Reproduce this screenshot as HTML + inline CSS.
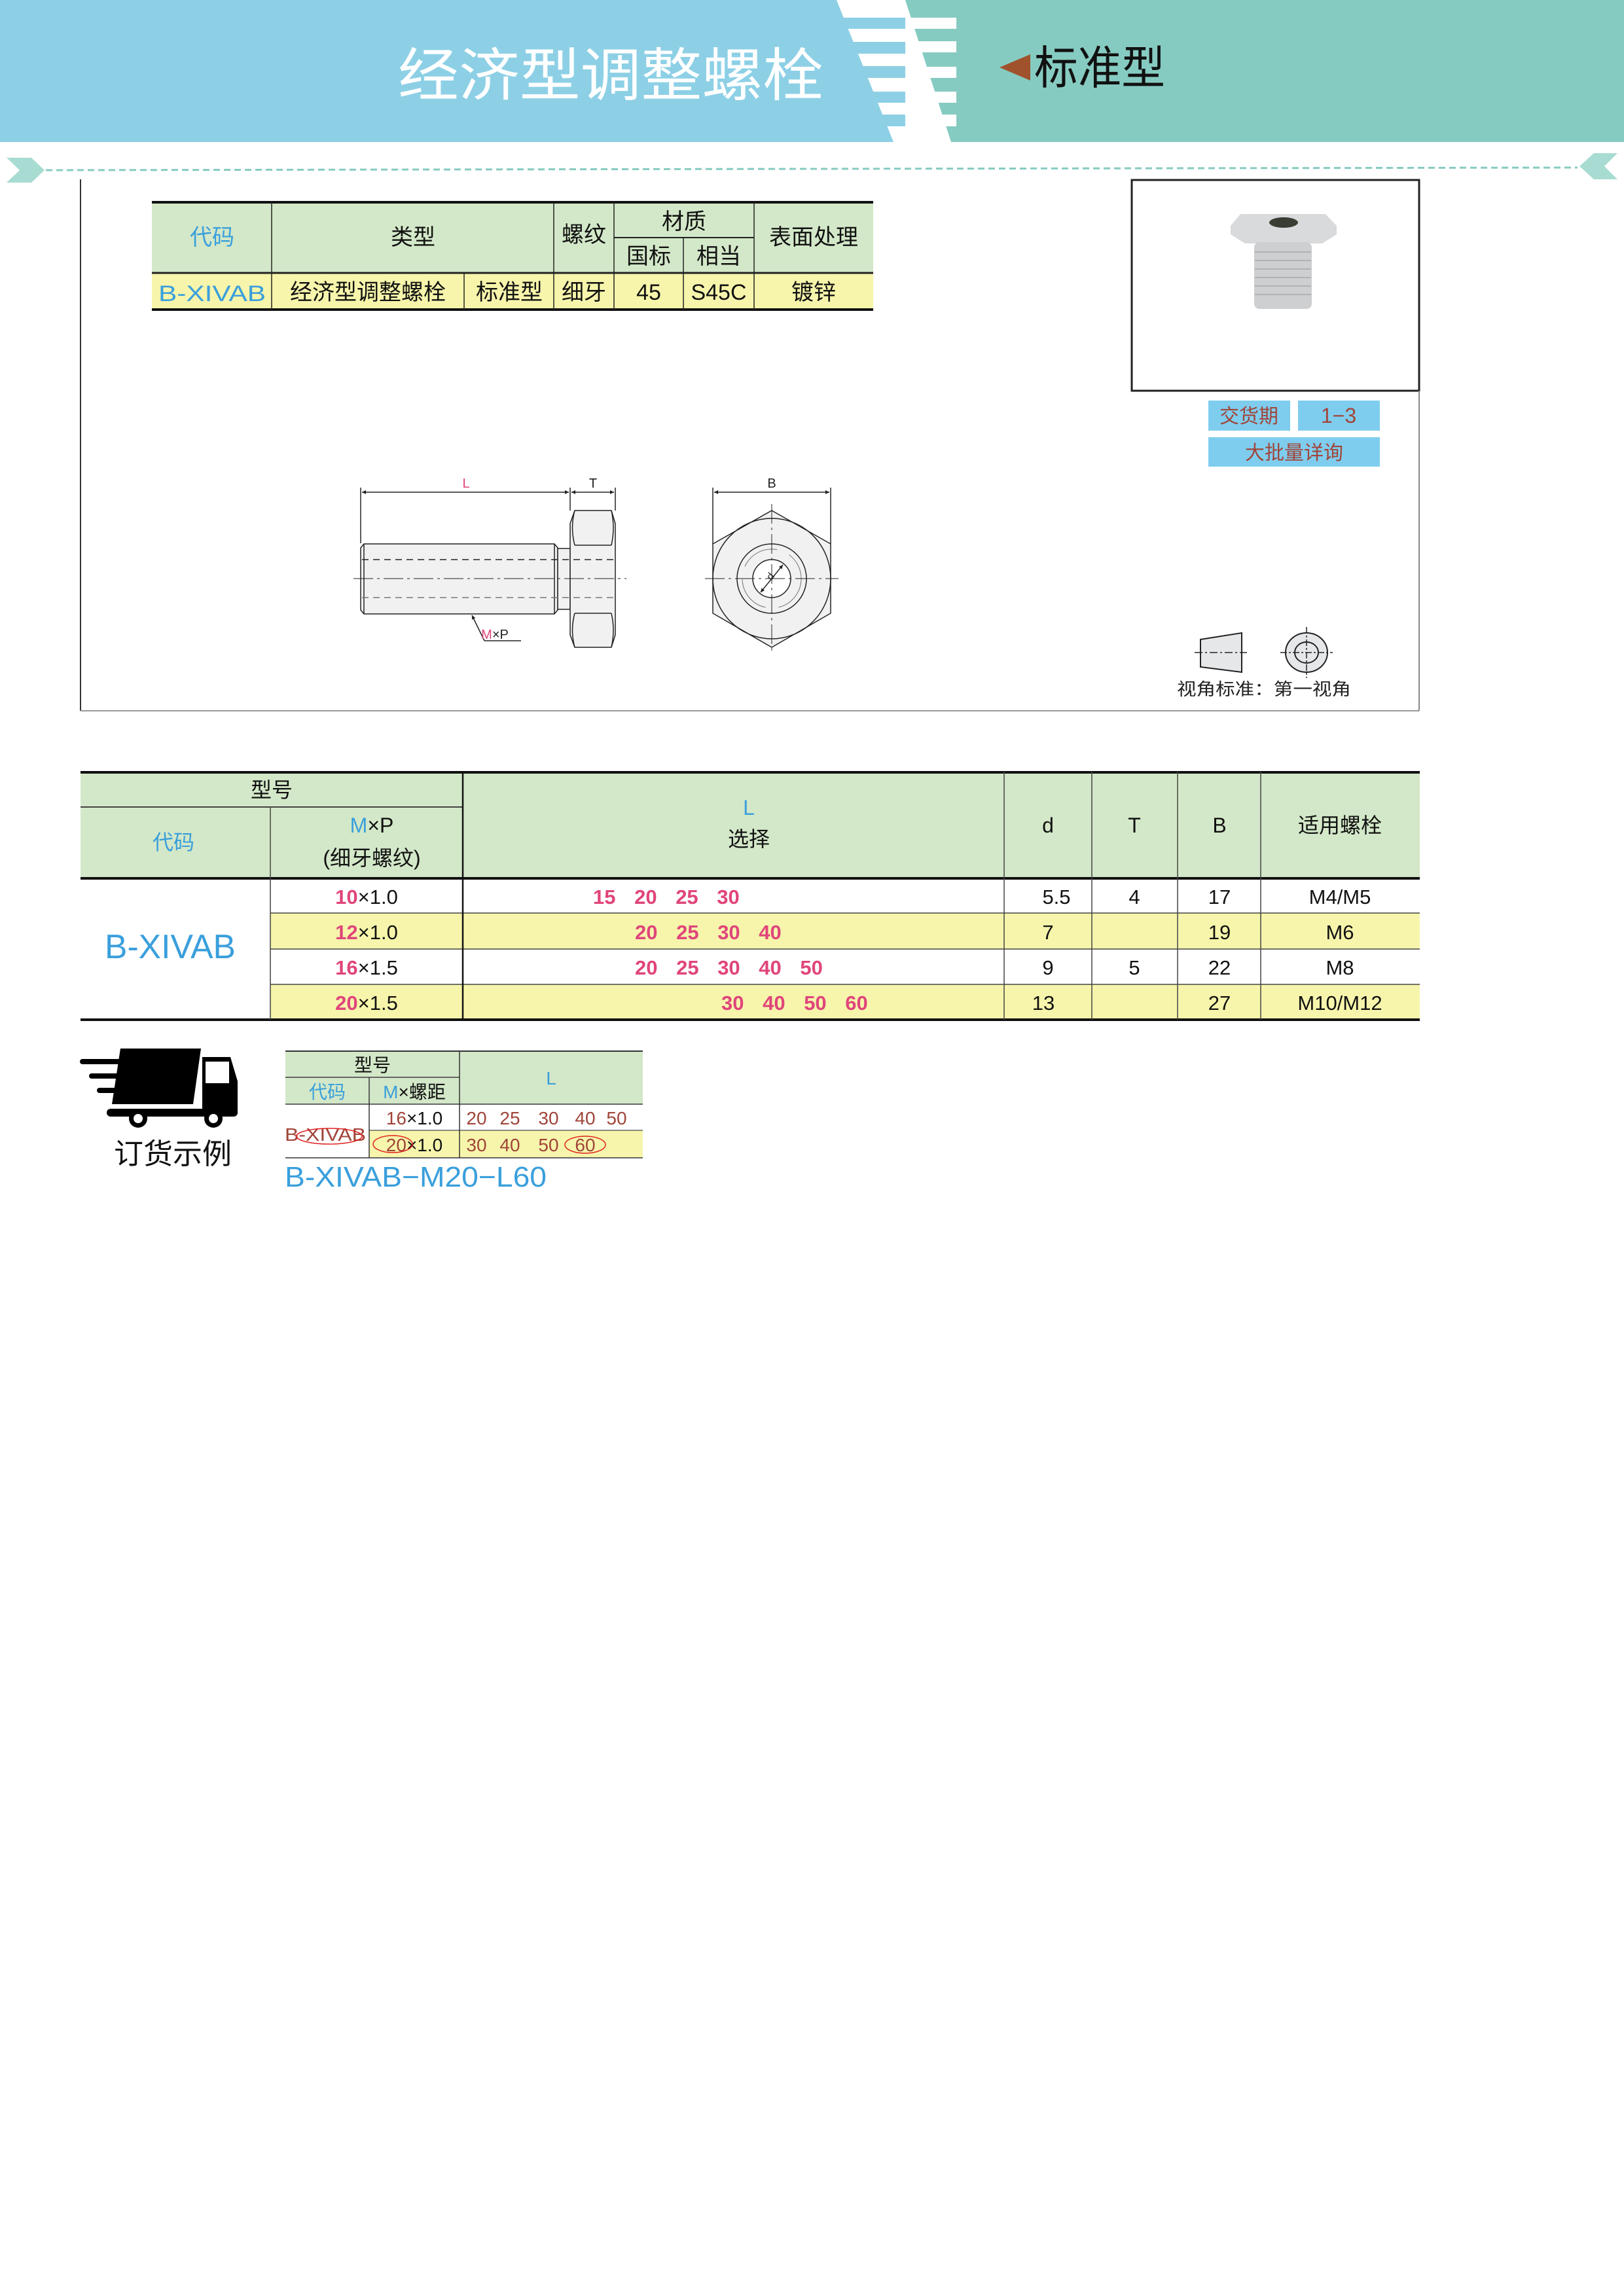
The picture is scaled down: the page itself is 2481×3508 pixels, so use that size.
<!DOCTYPE html>
<html><head><meta charset="utf-8"><style>
html,body{margin:0;padding:0;background:#fff;}
svg{display:block;}
text{font-family:"Liberation Sans","Noto Sans CJK SC",sans-serif;}
</style></head><body>
<svg width="2481" height="3508" viewBox="0 0 2481 3508" xmlns="http://www.w3.org/2000/svg">
<!-- header -->
<rect x="0" y="0" width="2481" height="217" fill="#fff"/>
<polygon points="0,0 1278,0 1365,217 0,217" fill="#8dd0e6"/>
<polygon points="1383,0 2481,0 2481,217 1453,217" fill="#86cbc1"/>
<g fill="#8dd0e6">
<rect x="1280" y="27" width="103" height="17"/><rect x="1290" y="64" width="93" height="18"/>
<rect x="1305" y="101" width="78" height="18"/><rect x="1320" y="140" width="63" height="17"/>
<rect x="1335" y="175" width="48" height="18"/></g>
<g fill="#fff">
<rect x="1383" y="27" width="78" height="17"/><rect x="1383" y="63" width="78" height="17"/>
<rect x="1383" y="102" width="78" height="17"/><rect x="1383" y="140" width="78" height="17"/>
<rect x="1383" y="175" width="78" height="18"/></g>
<text x="933" y="146" font-size="88" fill="#fff" text-anchor="middle" textLength="650" lengthAdjust="spacingAndGlyphs">经济型调整螺栓</text>
<polygon points="1527,103 1574,83 1574,123" fill="#a0522d"/>
<text x="1580" y="128" font-size="70" fill="#111" textLength="200" lengthAdjust="spacingAndGlyphs">标准型</text>
<!-- dotted line and chevrons -->
<line x1="70" y1="260" x2="2410" y2="256" stroke="#86cbc1" stroke-width="3" stroke-dasharray="10,6"/>
<polygon points="10,241 48,241 68,260 48,279 10,279 30,260" fill="#a8dcd2"/>
<polygon points="2471,234 2435,234 2413,254 2435,274 2471,274 2451,254" fill="#a8dcd2"/>
<!-- frame -->
<line x1="123" y1="274" x2="123" y2="1086" stroke="#333" stroke-width="2"/>
<line x1="123" y1="1086" x2="2168" y2="1086" stroke="#999" stroke-width="2"/>
<rect x="1729" y="275" width="439" height="322" fill="none" stroke="#222" stroke-width="3"/>
<line x1="2168" y1="597" x2="2168" y2="1086" stroke="#888" stroke-width="2"/>
<!-- photo -->
<polygon points="1880,345 1895,327 2025,327 2042,345 2042,358 2020,372 1902,372 1880,358" fill="#d8dadc"/>
<rect x="1916" y="370" width="88" height="102" rx="8" fill="#cdcfd1"/>
<g stroke="#b0b2b4" stroke-width="2"><line x1="1917" y1="385" x2="2003" y2="385"/><line x1="1917" y1="398" x2="2003" y2="398"/><line x1="1917" y1="411" x2="2003" y2="411"/><line x1="1917" y1="424" x2="2003" y2="424"/><line x1="1917" y1="437" x2="2003" y2="437"/><line x1="1917" y1="450" x2="2003" y2="450"/></g>
<ellipse cx="1961" cy="340" rx="22" ry="8" fill="#3a3d33"/>
<!-- delivery -->
<rect x="1846" y="612" width="125" height="46" fill="#7fcdee"/>
<rect x="1983" y="612" width="125" height="46" fill="#7fcdee"/>
<rect x="1846" y="668" width="262" height="45" fill="#7fcdee"/>
<text x="1908" y="646" font-size="30" fill="#a0453a" text-anchor="middle">交货期</text>
<text x="2045" y="646" font-size="32" fill="#a0453a" text-anchor="middle">1−3</text>
<text x="1977" y="702" font-size="30" fill="#a0453a" text-anchor="middle">大批量详询</text>
<!-- projection -->
<polygon points="1834,977 1897,967 1897,1027 1834,1019" fill="#e6e7e9" stroke="#222" stroke-width="2"/>
<line x1="1825" y1="997" x2="1905" y2="997" stroke="#222" stroke-width="1.5" stroke-dasharray="12,4,3,4"/>
<ellipse cx="1996" cy="997" rx="32" ry="30" fill="#e6e7e9" stroke="#222" stroke-width="2"/>
<ellipse cx="1996" cy="997" rx="18" ry="16" fill="none" stroke="#222" stroke-width="2"/>
<line x1="1956" y1="997" x2="2036" y2="997" stroke="#222" stroke-width="1.5" stroke-dasharray="10,3,3,3"/>
<line x1="1996" y1="958" x2="1996" y2="1036" stroke="#222" stroke-width="1.5" stroke-dasharray="10,3,3,3"/>
<text x="1798" y="1062" font-size="26" fill="#222" textLength="266" lengthAdjust="spacingAndGlyphs">视角标准：第一视角</text>
<!-- top table -->
<rect x="232" y="308" width="1102" height="109" fill="#d3e8c8"/>
<rect x="232" y="417" width="1102" height="56" fill="#f6f5ab"/>
<line x1="232" y1="309" x2="1334" y2="309" stroke="#111" stroke-width="4"/>
<line x1="232" y1="417" x2="1334" y2="417" stroke="#222" stroke-width="3"/>
<line x1="232" y1="473" x2="1334" y2="473" stroke="#111" stroke-width="4"/>
<g stroke="#222" stroke-width="1.5">
<line x1="415" y1="308" x2="415" y2="473"/><line x1="709" y1="417" x2="709" y2="473"/>
<line x1="846" y1="308" x2="846" y2="473"/><line x1="938" y1="308" x2="938" y2="473"/>
<line x1="1044" y1="363" x2="1044" y2="473"/><line x1="1152" y1="308" x2="1152" y2="473"/>
<line x1="938" y1="363" x2="1152" y2="363" stroke-width="2"/></g>
<g font-size="34" fill="#111" text-anchor="middle">
<text x="324" y="374" fill="#3a9fdc">代码</text>
<text x="631" y="374">类型</text>
<text x="892" y="370">螺纹</text>
<text x="1045" y="350">材质</text>
<text x="991" y="403">国标</text>
<text x="1098" y="403">相当</text>
<text x="1243" y="374">表面处理</text>
<text x="324" y="460" fill="#3a9fdc" font-family="Liberation Serif" textLength="164" lengthAdjust="spacingAndGlyphs">B-XIVAB</text>
<text x="562" y="458">经济型调整螺栓</text>
<text x="778" y="458">标准型</text>
<text x="892" y="458">细牙</text>
<text x="991" y="458">45</text>
<text x="1098" y="458">S45C</text>
<text x="1243" y="458">镀锌</text></g>
<!-- drawing side view -->
<defs><marker id="ar" viewBox="0 0 10 10" refX="10" refY="5" markerWidth="14" markerHeight="6" orient="auto-start-reverse" markerUnits="userSpaceOnUse"><path d="M0,0 L10,5 L0,10z" fill="#222"/></marker></defs>
<g stroke="#222" stroke-width="1.5" fill="none">
<line x1="551" y1="745" x2="551" y2="830"/><line x1="871" y1="745" x2="871" y2="780"/><line x1="940" y1="745" x2="940" y2="780"/>
<line x1="553" y1="752" x2="869" y2="752" marker-start="url(#ar)" marker-end="url(#ar)"/>
<line x1="873" y1="752" x2="938" y2="752" marker-start="url(#ar)" marker-end="url(#ar)"/>
<polygon points="551,837 556,831 847,831 852,837 852,932 847,938 556,938 551,932" fill="#f1f1f1"/>
<line x1="556" y1="831" x2="556" y2="938"/><line x1="847" y1="831" x2="847" y2="938"/>
<rect x="852" y="838" width="19" height="93" fill="#f1f1f1"/>
<path d="M878,780 L934,780 L940,800 L940,970 L934,989 L878,989 L871,970 L871,800 Z" fill="#f1f1f1"/>
<path d="M878,780 Q871,806 878,833 M934,780 Q940,806 934,833 M878,833 L934,833 M878,937 L934,937 M878,937 Q871,963 878,989 M934,937 Q940,963 934,989"/>
<line x1="553" y1="855" x2="940" y2="855" stroke-dasharray="10,7"/>
<line x1="553" y1="913" x2="940" y2="913" stroke-dasharray="10,7" stroke="#777"/>
<line x1="540" y1="884" x2="957" y2="884" stroke-dasharray="30,6,4,6" stroke-width="1"/>
<line x1="740" y1="979" x2="721" y2="940" marker-end="url(#ar)"/>
<line x1="740" y1="979" x2="796" y2="979"/>
<!-- front view -->
<line x1="1089" y1="745" x2="1089" y2="831"/><line x1="1269" y1="745" x2="1269" y2="831"/>
<line x1="1091" y1="752" x2="1267" y2="752" marker-start="url(#ar)" marker-end="url(#ar)"/>
<polygon points="1179,780 1269,831 1269,937 1179,989 1089,937 1089,831" fill="#f1f1f1"/>
<ellipse cx="1179" cy="884" rx="90" ry="92"/>
<circle cx="1179" cy="884" r="53"/>
<circle cx="1179" cy="884" r="45" stroke="#777" stroke-width="1" stroke-dasharray="60,20"/>
<circle cx="1179" cy="884" r="29" fill="#fff"/>
<line x1="1077" y1="884" x2="1281" y2="884" stroke-dasharray="30,6,4,6" stroke-width="1"/>
<line x1="1179" y1="770" x2="1179" y2="999" stroke-dasharray="30,6,4,6" stroke-width="1"/>
<line x1="1162" y1="905" x2="1196" y2="863" marker-start="url(#ar)" marker-end="url(#ar)"/>
</g>
<g font-size="20" fill="#222" text-anchor="middle">
<text x="712" y="745" fill="#e0457b">L</text><text x="906" y="745">T</text><text x="1179" y="745">B</text>
<text x="756" y="976"><tspan fill="#e0457b">M</tspan>×P</text>
<text x="1181" y="884" font-size="16" transform="rotate(-50 1181 884)">d</text></g>
<!-- main table -->
<rect x="123" y="1179" width="2046" height="163" fill="#d3e8c8"/>
<rect x="123" y="1342" width="290" height="216" fill="#fff"/>
<rect x="413" y="1395" width="1756" height="55" fill="#f6f5ab"/>
<rect x="413" y="1504" width="1756" height="54" fill="#f6f5ab"/>
<line x1="123" y1="1180" x2="2169" y2="1180" stroke="#111" stroke-width="4"/>
<line x1="123" y1="1342" x2="2169" y2="1342" stroke="#111" stroke-width="4"/>
<line x1="123" y1="1558" x2="2169" y2="1558" stroke="#111" stroke-width="4"/>
<line x1="123" y1="1233" x2="707" y2="1233" stroke="#444" stroke-width="2"/>
<g stroke="#444" stroke-width="1.5">
<line x1="413" y1="1395" x2="2169" y2="1395"/><line x1="413" y1="1450" x2="2169" y2="1450"/><line x1="413" y1="1504" x2="2169" y2="1504"/>
<line x1="413" y1="1233" x2="413" y2="1558"/><line x1="707" y1="1179" x2="707" y2="1558" stroke="#111" stroke-width="2.5"/>
<line x1="1534" y1="1179" x2="1534" y2="1558"/><line x1="1668" y1="1179" x2="1668" y2="1558"/>
<line x1="1799" y1="1179" x2="1799" y2="1558"/><line x1="1926" y1="1179" x2="1926" y2="1558"/></g>
<g font-size="32" fill="#111" text-anchor="middle">
<text x="415" y="1218">型号</text>
<text x="265" y="1298" fill="#3a9fdc">代码</text>
<text x="568" y="1272"><tspan fill="#3a9fdc">M</tspan>×P</text>
<text x="568" y="1322">(细牙螺纹)</text>
<text x="1144" y="1245" fill="#3a9fdc">L</text>
<text x="1144" y="1293">选择</text>
<text x="1601" y="1272">d</text><text x="1733" y="1272">T</text><text x="1863" y="1272">B</text>
<text x="2047" y="1272">适用螺栓</text>
<text x="260" y="1464" font-size="52" fill="#3a9fdc" textLength="200" lengthAdjust="spacingAndGlyphs">B-XIVAB</text>
<g font-size="31">
<text x="560" y="1381"><tspan fill="#e0457b" font-weight="bold">10</tspan>×1.0</text>
<text x="560" y="1435"><tspan fill="#e0457b" font-weight="bold">12</tspan>×1.0</text>
<text x="560" y="1489"><tspan fill="#e0457b" font-weight="bold">16</tspan>×1.5</text>
<text x="560" y="1543"><tspan fill="#e0457b" font-weight="bold">20</tspan>×1.5</text>
</g>
<g font-size="31" fill="#e0457b" font-weight="bold" text-anchor="start" word-spacing="20">
<text x="906" y="1381">15  20  25  30</text>
<text x="970" y="1435">20  25  30  40</text>
<text x="970" y="1489">20  25  30  40  50</text>
<text x="1102" y="1543">30  40  50  60</text></g>
<g font-size="31">
<text x="1614" y="1381">5.5</text><text x="1601" y="1435">7</text><text x="1601" y="1489">9</text><text x="1594" y="1543">13</text>
<text x="1733" y="1381">4</text><text x="1733" y="1489">5</text>
<text x="1863" y="1381">17</text><text x="1863" y="1435">19</text><text x="1863" y="1489">22</text><text x="1863" y="1543">27</text>
<text x="2047" y="1381">M4/M5</text><text x="2047" y="1435">M6</text><text x="2047" y="1489">M8</text><text x="2047" y="1543">M10/M12</text></g>
</g>
<!-- truck -->
<g fill="#000">
<polygon points="184,1602 307,1602 295,1687 171,1687"/>
<polygon points="309,1615 352,1615 363,1652 363,1702 309,1702"/>
<rect x="314" y="1622" width="36" height="33" fill="#fff"/>
<rect x="163" y="1694" width="200" height="12" rx="6"/>
<rect x="122" y="1618" width="90" height="8" rx="4"/>
<rect x="136" y="1640" width="80" height="8" rx="4"/>
<rect x="148" y="1662" width="60" height="8" rx="4"/>
<circle cx="211" cy="1709" r="14"/><circle cx="211" cy="1709" r="7" fill="#fff"/>
<circle cx="326" cy="1709" r="14"/><circle cx="326" cy="1709" r="7" fill="#fff"/>
</g>
<text x="264" y="1778" font-size="44" fill="#111" text-anchor="middle" textLength="180" lengthAdjust="spacingAndGlyphs">订货示例</text>
<!-- example table -->
<rect x="436" y="1605" width="546" height="82" fill="#d3e8c8"/>
<rect x="564" y="1727" width="418" height="42" fill="#f6f5ab"/>
<line x1="436" y1="1606" x2="982" y2="1606" stroke="#333" stroke-width="2"/>
<line x1="436" y1="1646" x2="702" y2="1646" stroke="#666" stroke-width="2"/>
<line x1="436" y1="1687" x2="982" y2="1687" stroke="#666" stroke-width="2"/>
<line x1="564" y1="1727" x2="982" y2="1727" stroke="#666" stroke-width="1.5"/>
<line x1="436" y1="1769" x2="982" y2="1769" stroke="#666" stroke-width="2"/>
<line x1="564" y1="1646" x2="564" y2="1769" stroke="#333" stroke-width="1.5"/>
<line x1="702" y1="1605" x2="702" y2="1769" stroke="#333" stroke-width="1.5"/>
<g font-size="28" text-anchor="middle" fill="#111">
<text x="569" y="1637">型号</text>
<text x="500" y="1678" fill="#3a9fdc">代码</text>
<text x="633" y="1678"><tspan fill="#3a9fdc">M</tspan>×螺距</text>
<text x="842" y="1657" fill="#3a9fdc">L</text>
<text x="497" y="1743" fill="#a0453a" textLength="124" lengthAdjust="spacingAndGlyphs">B-XIVAB</text>
<text x="633" y="1718"><tspan fill="#a0453a">16</tspan>×1.0</text>
<text x="633" y="1759"><tspan fill="#a0453a">20</tspan>×1.0</text>
</g>
<g font-size="28" fill="#a0453a" text-anchor="middle">
<text x="728" y="1718">20</text><text x="779" y="1718">25</text><text x="838" y="1718">30</text><text x="894" y="1718">40</text><text x="942" y="1718">50</text>
<text x="728" y="1759">30</text><text x="779" y="1759">40</text><text x="838" y="1759">50</text><text x="894" y="1759">60</text></g>
<g fill="none" stroke="#e02020" stroke-width="1.5">
<ellipse cx="503" cy="1736" rx="50" ry="12"/>
<ellipse cx="600" cy="1748" rx="30" ry="13"/>
<ellipse cx="894" cy="1749" rx="31" ry="13"/></g>
<text x="435" y="1813" font-size="44" fill="#3a9fdc" textLength="400" lengthAdjust="spacingAndGlyphs">B-XIVAB−M20−L60</text>
</svg>
</body></html>
